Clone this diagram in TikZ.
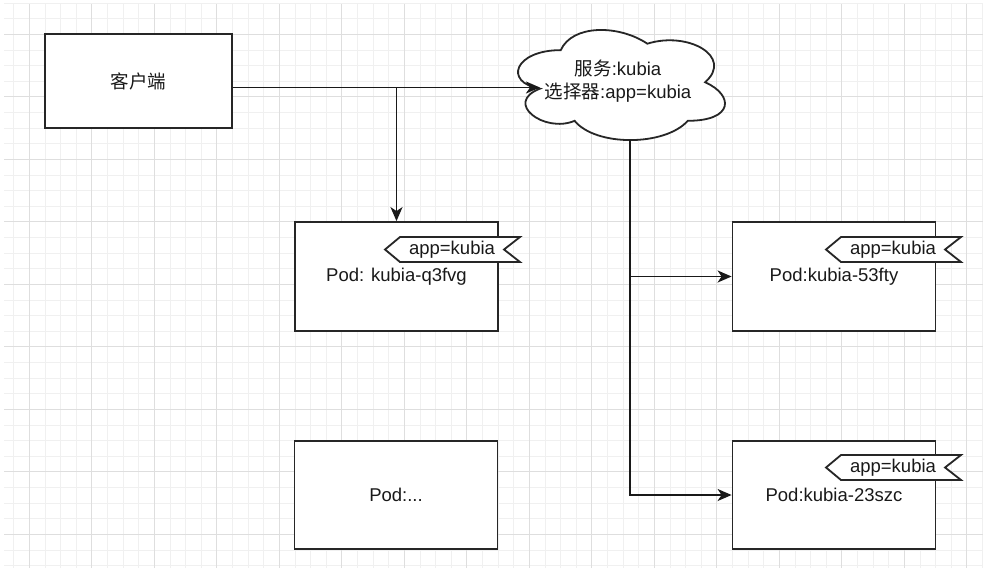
\documentclass[tikz,border=0pt]{standalone}
\usepackage{fontspec}
\setmainfont{Liberation Sans}
\newfontfamily\cjk{Noto Sans CJK SC}
\usetikzlibrary{arrows.meta}
\begin{document}
\begin{tikzpicture}[x=1pt,y=-1pt,
  box/.style={draw=black!85, line width=1.8pt, fill=white, inner sep=0pt,
    font=\fontsize{18.5}{22.5}\selectfont, text=black!90},
  arr/.style={line width=1.9pt, draw=black!90,
    -{Stealth[length=14pt,width=12pt,inset=4pt]}},
  lbl/.style={font=\fontsize{18.5}{22.5}\selectfont, text=black!90, inner sep=0pt},
  tagshape/.style={draw=black!85, line width=1.8pt, fill=white},
  minorgrid/.style={draw=black!6, line width=0.8pt},
  majorgrid/.style={draw=black!13, line width=0.9pt},
  cloudshape/.style={draw=black!85, line width=1.8pt, fill=white},
  apptag/.pic={
    \draw[tagshape] (0,0) -- (15,-12.5) -- (135,-12.5) -- (119,0) -- (135,12.5) -- (15,12.5) -- cycle;
    \node[lbl] (-txt) at (67,0) {app=kubia};
  }]
\useasboundingbox (0,0) rectangle (991,574);
\fill[white] (0,0) rectangle (991,574);
% grid
\foreach \i in {0,...,62} \draw[minorgrid] ({13.7+15.625*\i},4) -- ({13.7+15.625*\i},568);
\foreach \j in {0,...,36} \draw[minorgrid] (4,{3.05+15.625*\j}) -- (983,{3.05+15.625*\j});
\foreach \i in {0,...,15} \draw[majorgrid] ({29.3+62.5*\i},4) -- ({29.3+62.5*\i},568);
\foreach \j in {0,...,8} \draw[majorgrid] (4,{34.3+62.5*\j}) -- (983,{34.3+62.5*\j});

% boxes
\node[box, minimum width=187pt, minimum height=94pt] (client) at (138.5,81) {{\cjk 客户端}};
\node[box, minimum width=203pt, minimum height=109pt] (pod1) at (396.5,276.5) {Pod: kubia-q3fvg};
\node[box, minimum width=203pt, minimum height=109pt] (pod2) at (834,276.5) {Pod:kubia-53fty};
\node[box, minimum width=203pt, minimum height=108pt] (pod3) at (396,495) {Pod:...};
\node[box, minimum width=203pt, minimum height=108pt] (pod4) at (834,495) {Pod:kubia-23szc};

% tags
\pic (tag1) at (385,249.5) {apptag};
\pic (tag2) at (826,249.5) {apptag};
\pic (tag4) at (826,467.5) {apptag};

% cloud
\begin{scope}[shift={(503,18)}, x=231pt, y=-128.5pt]
\draw[cloudshape] (0.25,0.25) .. controls (0.05,0.25) and (0,0.5) .. (0.16,0.55)
  .. controls (0,0.66) and (0.18,0.9) .. (0.31,0.8)
  .. controls (0.4,1) and (0.7,1) .. (0.8,0.8)
  .. controls (1,0.8) and (1,0.6) .. (0.875,0.5)
  .. controls (1,0.3) and (0.8,0.1) .. (0.625,0.2)
  .. controls (0.5,0.05) and (0.3,0.05) .. (0.25,0.25) -- cycle;
\coordinate (cin) at (0.16,0.55);
\coordinate (cout) at (0.551,0.95);
\end{scope}
\node[lbl, align=center] (svc) at (618,81) {{\cjk 服务}:kubia\\{\cjk 选择器}:app=kubia};

% connectors
\coordinate (cs) at ([yshift=-6.5pt]client.east);
\draw[arr] (cs) -- (cs -| cin);
\draw[arr] (cs) -| (pod1.north);
\draw[arr] (cout) |- (pod2.west);
\draw[arr] (cout) |- (pod4.west);
\end{tikzpicture}
\end{document}
